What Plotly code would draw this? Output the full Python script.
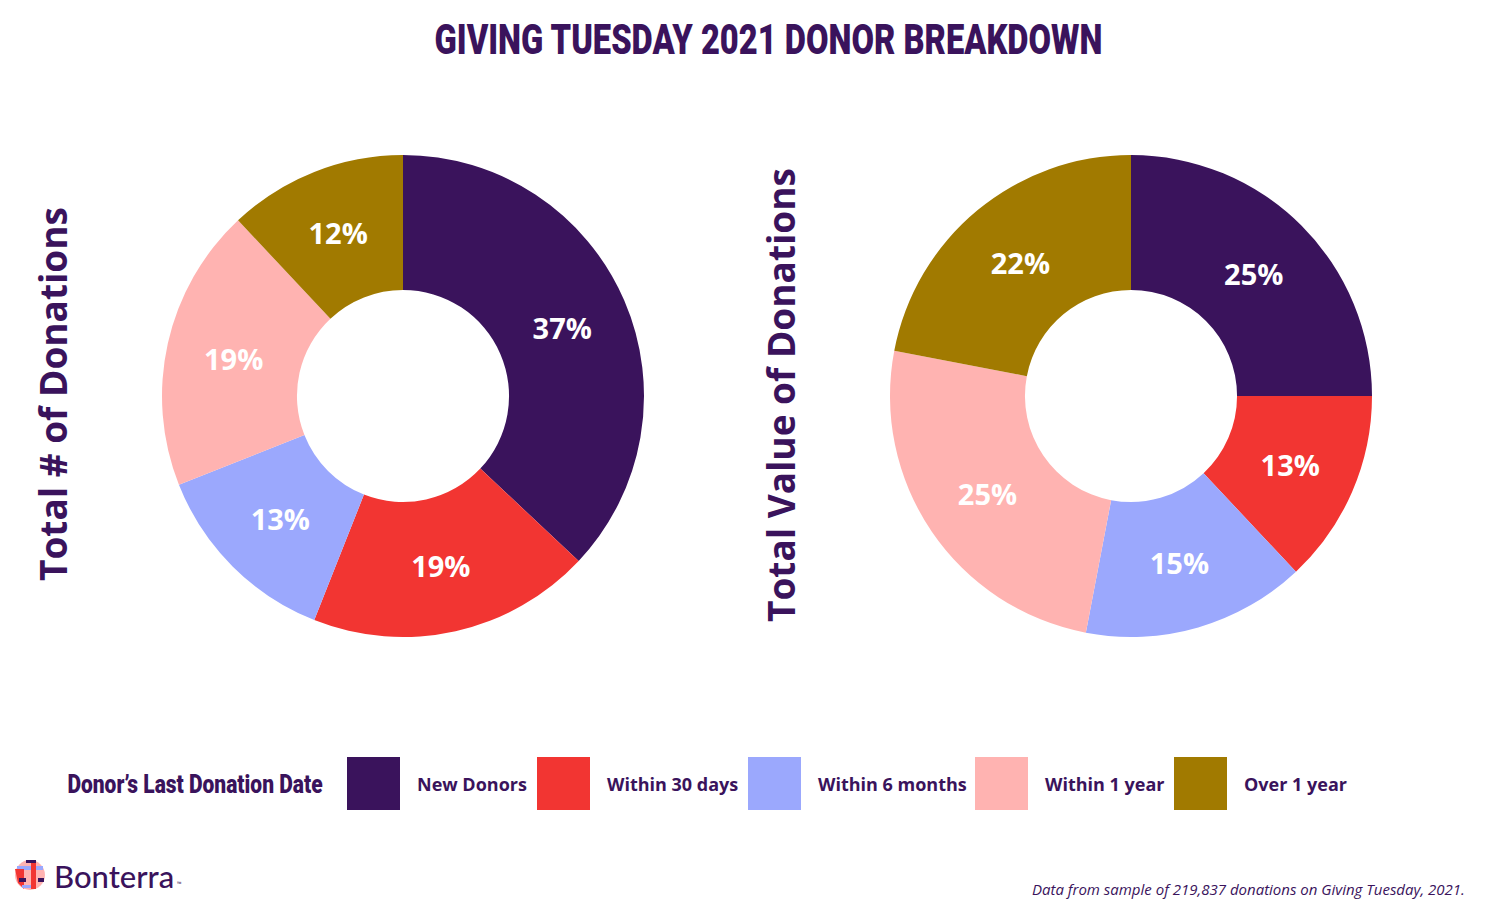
import plotly.graph_objects as go

categories = ["New Donors", "Within 30 days", "Within 6 months", "Within 1 year", "Over 1 year"]
colors = ["#3A135C", "#F23532", "#9BA8FD", "#FFB3B1", "#A17A00"]
count_pct = [37, 19, 13, 19, 12]
value_pct = [25, 13, 15, 25, 22]

title_text = "GIVING TUESDAY 2021 DONOR BREAKDOWN"
left_label = "Total # of Donations"
right_label = "Total Value of Donations"
legend_title = "Donor’s Last Donation Date"
footnote = "Data from sample of 219,837 donations on Giving Tuesday, 2021."

W, H = 1500, 900
PURPLE = "#3A135C"
COND = "Roboto, Inter, sans-serif"
BODY = "Open Sans, Noto Sans, sans-serif"


def px(x):
    return x / W


def py(y):
    return 1 - y / H


fig = go.Figure()

for vals, cx in [(count_pct, 403), (value_pct, 1131)]:
    r = 241
    fig.add_trace(go.Pie(
        labels=categories,
        values=vals,
        marker=dict(colors=colors, line=dict(width=0)),
        hole=0.44,
        sort=False,
        direction="clockwise",
        rotation=0,
        texttemplate="%{value}%",
        textposition="inside",
        insidetextorientation="horizontal",
        textfont=dict(family=BODY, size=29, color="white", weight="bold"),
        domain=dict(x=[px(cx - r), px(cx + r)], y=[py(396 + r), py(396 - r)]),
        showlegend=False,
        hoverinfo="label+percent",
    ))

annotations = []
shapes = []

annotations.append(dict(text=title_text, x=px(768), y=py(39), xref="paper", yref="paper",
                        showarrow=False, xanchor="center", yanchor="middle",
                        font=dict(family=COND, size=43, color=PURPLE, weight=900)))

annotations.append(dict(text=f"<b>{left_label}</b>", x=px(52), y=py(394), xref="paper", yref="paper",
                        showarrow=False, textangle=-90, xanchor="center", yanchor="middle",
                        font=dict(family=BODY, size=37, color=PURPLE)))
annotations.append(dict(text=f"<b>{right_label}</b>", x=px(780), y=py(395), xref="paper", yref="paper",
                        showarrow=False, textangle=-90, xanchor="center", yanchor="middle",
                        font=dict(family=BODY, size=37, color=PURPLE)))

# Legend
annotations.append(dict(text=legend_title, x=px(195), y=py(784), xref="paper", yref="paper",
                        showarrow=False, xanchor="center", yanchor="middle",
                        font=dict(family=COND, size=25, color=PURPLE, weight=900)))
box_x = [347, 537, 748, 975, 1174]
for cat, col, bx in zip(categories, colors, box_x):
    shapes.append(dict(type="rect", xref="paper", yref="paper",
                       x0=px(bx), x1=px(bx + 53), y0=py(810), y1=py(757),
                       fillcolor=col, line=dict(width=0)))
    annotations.append(dict(text=f"<b>{cat}</b>", x=px(bx + 68), y=py(784), xref="paper", yref="paper",
                            showarrow=False, xanchor="left", yanchor="middle",
                            font=dict(family=BODY, size=18, color=PURPLE)))

# Logo
lx, ly, lr = 30, 875, 15
shapes.append(dict(type="circle", xref="paper", yref="paper",
                   x0=px(lx - lr), x1=px(lx + lr), y0=py(ly + lr), y1=py(ly - lr),
                   fillcolor="#FFB3B1", line=dict(width=0)))
shapes.append(dict(type="rect", xref="paper", yref="paper",
                   x0=px(lx - 13), x1=px(lx + 13), y0=py(ly - 5), y1=py(ly - 9),
                   fillcolor="#9BA8FD", line=dict(width=0)))
shapes.append(dict(type="rect", xref="paper", yref="paper",
                   x0=px(lx + 1), x1=px(lx + 6), y0=py(ly + lr - 1), y1=py(ly - lr + 1),
                   fillcolor="#F23532", line=dict(width=0)))
shapes.append(dict(type="path", xref="paper", yref="paper",
                   path=f"M {px(lx-15)},{py(ly-6)} L {px(lx-6)},{py(ly-6)} L {px(lx-6)},{py(ly+14)} L {px(lx-12)},{py(ly+8)} Z",
                   fillcolor="#F23532", line=dict(width=0)))
shapes.append(dict(type="rect", xref="paper", yref="paper",
                   x0=px(lx - 11), x1=px(lx - 4), y0=py(ly + 7), y1=py(ly + 3),
                   fillcolor="#3A135C", line=dict(width=0)))
shapes.append(dict(type="rect", xref="paper", yref="paper",
                   x0=px(lx + 8), x1=px(lx + 14), y0=py(ly + 7), y1=py(ly + 3),
                   fillcolor="#3A135C", line=dict(width=0)))
shapes.append(dict(type="rect", xref="paper", yref="paper",
                   x0=px(lx - 8), x1=px(lx + 1), y0=py(ly + 13), y1=py(ly + 10),
                   fillcolor="#9BA8FD", line=dict(width=0)))
shapes.append(dict(type="rect", xref="paper", yref="paper",
                   x0=px(lx - 4), x1=px(lx + 6), y0=py(ly - 12), y1=py(ly - 15),
                   fillcolor="#3A135C", line=dict(width=0)))
annotations.append(dict(text="Bonterra", x=px(52), y=py(876), xref="paper", yref="paper",
                        showarrow=False, xanchor="left", yanchor="middle",
                        font=dict(family="Lato, Inter, sans-serif", size=31, color=PURPLE, weight=500)))
annotations.append(dict(text="™", x=px(175), y=py(884), xref="paper", yref="paper",
                        showarrow=False, xanchor="left", yanchor="middle",
                        font=dict(family=BODY, size=6, color=PURPLE)))

annotations.append(dict(text=f"<i>{footnote}</i>", x=px(1467), y=py(889), xref="paper", yref="paper",
                        showarrow=False, xanchor="right", yanchor="middle",
                        font=dict(family=BODY, size=15, color=PURPLE)))

fig.update_layout(
    width=W, height=H,
    margin=dict(l=0, r=0, t=0, b=0),
    paper_bgcolor="white", plot_bgcolor="white",
    annotations=annotations, shapes=shapes,
)

post = """
document.body.style.margin = '0';
var squeeze = {'%s': 0.76, '%s': 0.84};
document.querySelectorAll('text.annotation-text').forEach(function(t){
  var k = t.textContent;
  if (squeeze[k]) {
    t.style.transformBox = 'fill-box';
    t.style.transformOrigin = 'center';
    t.style.transform = 'scaleX(' + squeeze[k] + ')';
  }
});
""" % (title_text, legend_title)

fig.write_html("out.html", post_script=post, config={"displayModeBar": False})
